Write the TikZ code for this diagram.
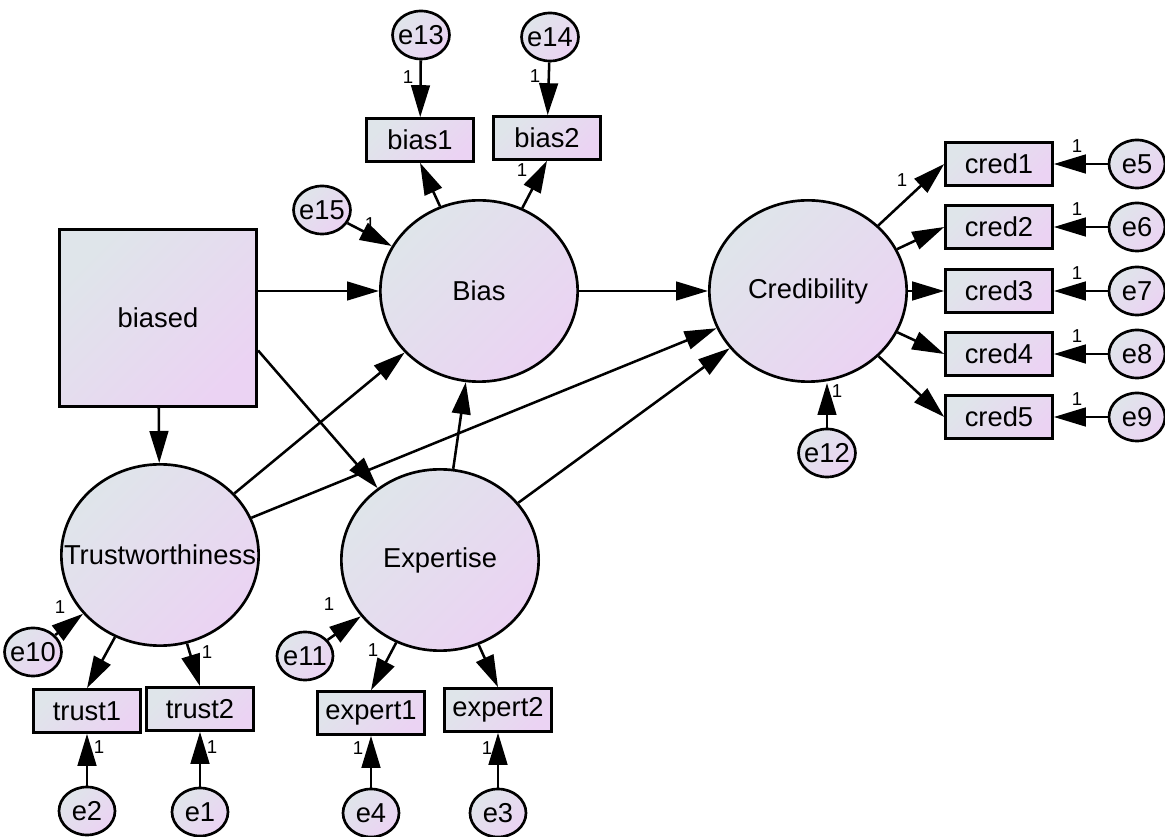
\documentclass[tikz,border=0pt]{standalone}
\usepackage{fontspec}
\setmainfont{Liberation Sans}
\usetikzlibrary{arrows.meta,shapes.geometric}

\definecolor{shadeA}{RGB}{223,229,234}
\definecolor{shadeB}{RGB}{235,211,243}

\tikzset{every picture/.style={line width=1.9pt}}
\tikzset{
  bigtext/.style={font=\fontsize{20.5}{24}\selectfont},
  shaded/.style={draw, top color=shadeA, bottom color=shadeB, shading angle=45},
  latent/.style={shaded, ellipse, line width=2pt, inner sep=-22pt, minimum width=148pt, minimum height=136pt, bigtext},
  observed/.style={shaded, rectangle, line width=2.2pt, inner sep=0pt, minimum width=80pt, minimum height=32pt, bigtext},
  errvar/.style={shaded, ellipse, line width=2pt, inner sep=-2pt, minimum width=42pt, minimum height=36pt, bigtext},
  regarrow/.style={-{Triangle[length=24pt,width=14pt]}},
  wt/.style={inner sep=0pt, font=\fontsize{14}{16}\selectfont}
}

\begin{document}
\begin{tikzpicture}[x=0.75pt,y=0.75pt,yscale=-1,xscale=1]
\useasboundingbox (0,0) rectangle (1165,837);

% Latent variables
\node [latent] (bias) at (479,291) {Bias};
\node [latent] (cred) at (808,291) {Credibility};
\node [latent] (trust) at (160,555) {Trustworthiness};
\node [latent] (expert) at (440,560) {Expertise};

% Exogenous square
\node [shaded, rectangle, line width=2.2pt, minimum width=148pt, minimum height=133pt, bigtext] (biased) at (158,318) {biased};

% Indicators
\node [observed] (bias1) at (420,140) {bias1};
\node [observed] (bias2) at (547,138) {bias2};
\node [observed] (cred1) at (999,164) {cred1};
\node [observed] (cred2) at (999,227) {cred2};
\node [observed] (cred3) at (999,291) {cred3};
\node [observed] (cred4) at (999,354) {cred4};
\node [observed] (cred5) at (999,417) {cred5};
\node [observed] (trust1) at (87,711) {trust1};
\node [observed] (trust2) at (200,709) {trust2};
\node [observed] (expert1) at (371,713) {expert1};
\node [observed] (expert2) at (498,710) {expert2};

% Error terms
\node [errvar] (e13) at (421,35) {e13};
\node [errvar] (e14) at (550,37) {e14};
\node [errvar] (e15) at (322,210) {e15};
\node [errvar] (e5) at (1137,164) {e5};
\node [errvar] (e6) at (1137,227) {e6};
\node [errvar] (e7) at (1137,291) {e7};
\node [errvar] (e8) at (1137,354) {e8};
\node [errvar] (e9) at (1137,417) {e9};
\node [errvar] (e12) at (827,453) {e12};
\node [errvar] (e10) at (33,652) {e10};
\node [errvar] (e11) at (305,656) {e11};
\node [errvar] (e2) at (87,811) {e2};
\node [errvar] (e1) at (200,812) {e1};
\node [errvar] (e4) at (371,813) {e4};
\node [errvar] (e3) at (498,813) {e3};

% Structural paths
\draw [regarrow] (biased.east |- bias) -- (bias);
\draw [regarrow] (biased) -- (trust);
\draw [regarrow] (biased.-18) -- (expert);
\draw [regarrow] (trust) -- (bias);
\draw [regarrow] (trust) -- (cred);
\draw [regarrow] (expert) -- (bias);
\draw [regarrow] (expert) -- (cred);
\draw [regarrow] (bias) -- (cred);

% Loadings
\draw [regarrow] (bias) -- (bias1.south);
\draw [regarrow] (bias) -- (bias2.south);
\foreach \i in {1,...,5}
  \draw [regarrow] (cred) -- (cred\i.west);
\draw [regarrow] (trust) -- (trust1.north);
\draw [regarrow] (trust) -- (trust2.north);
\draw [regarrow] (expert) -- (expert1.north);
\draw [regarrow] (expert) -- (expert2.north);

% Error paths
\draw [regarrow] (e13) -- (bias1);
\draw [regarrow] (e14) -- (bias2);
\draw [regarrow] (e15) -- (bias);
\foreach \i/\j in {5/1,6/2,7/3,8/4,9/5}
  \draw [regarrow] (e\i) -- (cred\j);
\draw [regarrow] (e12) -- (e12 |- cred.south);
\draw [regarrow] (e10) -- (trust);
\draw [regarrow] (e11) -- (expert);
\draw [regarrow] (e2) -- (trust1);
\draw [regarrow] (e1) -- (trust2);
\draw [regarrow] (e4) -- (expert1);
\draw [regarrow] (e3) -- (expert2);

% Fixed weights
\node [wt] (w13) at (408,77) {1};
\node [wt] (w14) at (535,76) {1};
\node [wt] (wb2) at (522,170) {1};
\node [wt] (w15) at (370,224) {1};
\node [wt] (wc1) at (902,180) {1};
\node [wt] (w5) at (1077,146) {1};
\node [wt] (w6) at (1077,209) {1};
\node [wt] (w7) at (1077,273) {1};
\node [wt] (w8) at (1077,336) {1};
\node [wt] (w9) at (1077,399) {1};
\node [wt] (w12) at (837,391) {1};
\node [wt] (w10) at (60,607) {1};
\node [wt] (wt2) at (207,652) {1};
\node [wt] (w2) at (99,747) {1};
\node [wt] (w1) at (212,747) {1};
\node [wt] (w11) at (329,604) {1};
\node [wt] (wx1) at (373,650) {1};
\node [wt] (w4) at (358,748) {1};
\node [wt] (w3) at (487,748) {1};

\end{tikzpicture}
\end{document}
